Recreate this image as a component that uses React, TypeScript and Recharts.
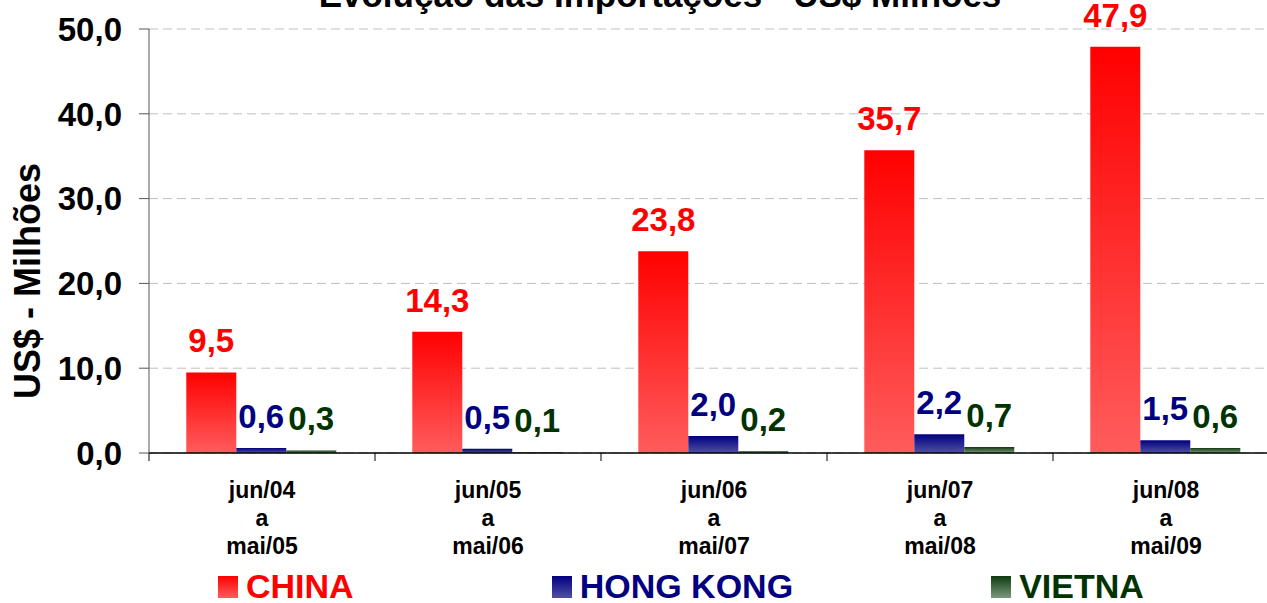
import {
  BarChart,
  Bar,
  XAxis,
  YAxis,
  CartesianGrid,
  Legend,
  LabelList
} from "recharts";

const periodStart = ["jun/04", "jun/05", "jun/06", "jun/07", "jun/08"];
const periodEnd = ["mai/05", "mai/06", "mai/07", "mai/08", "mai/09"];
const china = [9.5, 14.3, 23.8, 35.7, 47.9];
const hongKong = [0.6, 0.5, 2.0, 2.2, 1.5];
const vietna = [0.3, 0.1, 0.2, 0.7, 0.6];
const yTicks = [0, 10, 20, 30, 40, 50];

const series = [
  { key: "china", name: "CHINA", color: "#FF0000", top: "#FF0000", bottom: "#FF5C5C" },
  { key: "hongKong", name: "HONG KONG", color: "#000080", top: "#000080", bottom: "#5050A2" },
  { key: "vietna", name: "VIETNA", color: "#003300", top: "#0F3A0F", bottom: "#7A9A7A" }
];

const data = periodStart.map((p, i) => ({
  period: `${p} a ${periodEnd[i]}`,
  china: china[i],
  hongKong: hongKong[i],
  vietna: vietna[i]
}));

const FONT = "'Liberation Sans', Arial, sans-serif";
const fmt = (v: any) => Number(v).toFixed(1).replace(".", ",");

// category label in three lines + tick marks on the category edges
const PeriodTick = ({ x, y, payload, index }: any) => {
  const lines = String(payload.value).split(" ");
  const half = payload.offset || 0;
  const isLast = index === data.length - 1;
  return (
    <g>
      <line x1={x - half} x2={x - half} y1={y} y2={y + 8} stroke="#000" />
      {isLast && <line x1={x + half} x2={x + half} y1={y} y2={y + 8} stroke="#000" />}
      <text textAnchor="middle" fontFamily={FONT} fontSize={23} fontWeight="bold" fill="#000">
        {lines.map((l, i) => (
          <tspan key={i} x={x} y={y + 45 + i * 28}>
            {l}
          </tspan>
        ))}
      </text>
    </g>
  );
};

const YTitle = () => (
  <text
    x={40}
    y={281}
    transform="rotate(-90, 40, 281)"
    textAnchor="middle"
    fontFamily={FONT}
    fontSize={36}
    fontWeight="bold"
    fill="#000"
  >
    US$ - Milhões
  </text>
);

const LegendBox = () => (
  <div style={{ display: "flex", paddingLeft: 218, gap: 198, fontFamily: FONT }}>
    {series.map((s) => (
      <div key={s.key} style={{ display: "flex", alignItems: "flex-start" }}>
        <div
          style={{
            width: 20,
            height: 22,
            marginTop: 4,
            background: `linear-gradient(${s.top}, ${s.bottom})`
          }}
        />
        <span
          style={{
            marginLeft: 8,
            fontSize: 34,
            lineHeight: "28px",
            fontWeight: "bold",
            color: s.color,
            whiteSpace: "nowrap"
          }}
        >
          {s.name}
        </span>
      </div>
    ))}
  </div>
);

export default function App() {
  return (
    <div
      style={{
        position: "absolute",
        left: 0,
        top: 0,
        width: 1267,
        height: 603,
        overflow: "hidden",
        background: "#fff"
      }}
    >
      <div
        style={{
          position: "absolute",
          left: 160,
          width: 1000,
          top: -23,
          textAlign: "center",
          fontFamily: FONT,
          fontSize: 35,
          lineHeight: "35px",
          fontWeight: "bold",
          whiteSpace: "nowrap"
        }}
      >
        Evolução das Importações - US$ Milhões
      </div>
      <BarChart
        width={1290}
        height={603}
        data={data}
        margin={{ top: 29, right: 11, left: 0, bottom: 40 }}
        barCategoryGap="16.5%"
        barGap={0}
      >
        <defs>
          {series.map((s) => (
            <linearGradient key={s.key} id={`g-${s.key}`} x1="0" y1="0" x2="0" y2="1">
              <stop offset="0%" stopColor={s.top} />
              <stop offset="100%" stopColor={s.bottom} />
            </linearGradient>
          ))}
        </defs>
        <CartesianGrid vertical={false} stroke="#BFBFBF" strokeDasharray="9 5" />
        <XAxis
          dataKey="period"
          height={110}
          axisLine={{ stroke: "#000", strokeWidth: 1.5 }}
          tickLine={false}
          tickSize={0}
          tickMargin={0}
          interval={0}
          tick={<PeriodTick />}
        />
        <YAxis
          width={149}
          domain={[0, 50]}
          ticks={yTicks}
          interval={0}
          tickFormatter={fmt}
          axisLine={{ stroke: "#555" }}
          tickLine={{ stroke: "#555" }}
          tickSize={10}
          tickMargin={17}
          tick={{ fontFamily: FONT, fontSize: 33, fontWeight: "bold", fill: "#000" }}
          label={<YTitle />}
        />
        <Legend
          verticalAlign="middle"
          align="center"
          wrapperStyle={{ top: 572, left: 0, width: 1290, height: 28 }}
          content={<LegendBox />}
        />
        {series.map((s) => (
          <Bar
            key={s.key}
            dataKey={s.key}
            name={s.name}
            fill={`url(#g-${s.key})`}
            isAnimationActive={false}
          >
            <LabelList
              dataKey={s.key}
              position="top"
              offset={20}
              formatter={fmt}
              fill={s.color}
              fontFamily={FONT}
              fontSize={33}
              fontWeight="bold"
            />
          </Bar>
        ))}
      </BarChart>
    </div>
  );
}
